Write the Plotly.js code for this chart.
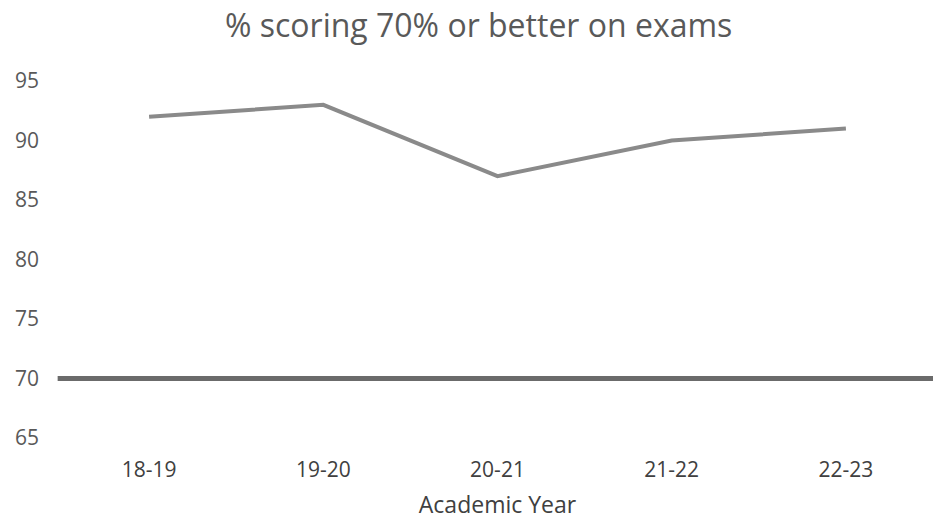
<!DOCTYPE html>
<html>
<head>
<meta charset="utf-8">
<script src="https://cdn.plot.ly/plotly-3.0.1.min.js"></script>
<style>html,body{margin:0;padding:0;background:#fff;}#chart{width:933px;height:520px;}</style>
</head>
<body>
<div id="chart"></div>
<script>
const years = ["18-19", "19-20", "20-21", "21-22", "22-23"];
const pctScoring = [92, 93, 87, 90, 91];
const threshold = 70;
const yTicks = [65, 70, 75, 80, 85, 90, 95];

const traces = [{
  type: "scatter",
  mode: "lines",
  x: years,
  y: pctScoring,
  line: {color: "#8a8a8a", width: 4},
  hoverinfo: "x+y",
  showlegend: false
}];

const layout = {
  width: 933,
  height: 520,
  paper_bgcolor: "#ffffff",
  plot_bgcolor: "#ffffff",
  margin: {l: 62, r: 0, t: 81, b: 82},
  font: {family: "Open Sans, sans-serif", color: "#595959"},
  title: {
    text: "% scoring 70% or better on exams",
    font: {size: 32, color: "#595959"},
    x: 0.513, xanchor: "center",
    y: 0.951, yanchor: "middle"
  },
  xaxis: {
    type: "category",
    range: [-0.5, 4.5],
    showgrid: false, zeroline: false, showline: false,
    ticks: "",
    tickfont: {size: 21, color: "#404040"},
    ticklabelstandoff: 17,
    title: {text: "Academic Year", font: {size: 23, color: "#404040"}, standoff: 20},
    fixedrange: true
  },
  yaxis: {
    range: [65, 95],
    tickvals: yTicks,
    showgrid: false, zeroline: false, showline: false,
    ticks: "",
    tickfont: {size: 21, color: "#595959"},
    ticklabelstandoff: 22,
    fixedrange: true
  },
  shapes: [{
    type: "line",
    xref: "paper", yref: "y",
    x0: -0.005, x1: 1,
    y0: threshold, y1: threshold,
    line: {color: "#6b6b6b", width: 5}
  }]
};

Plotly.newPlot("chart", traces, layout, {displayModeBar: false, staticPlot: true});
</script>
</body>
</html>
